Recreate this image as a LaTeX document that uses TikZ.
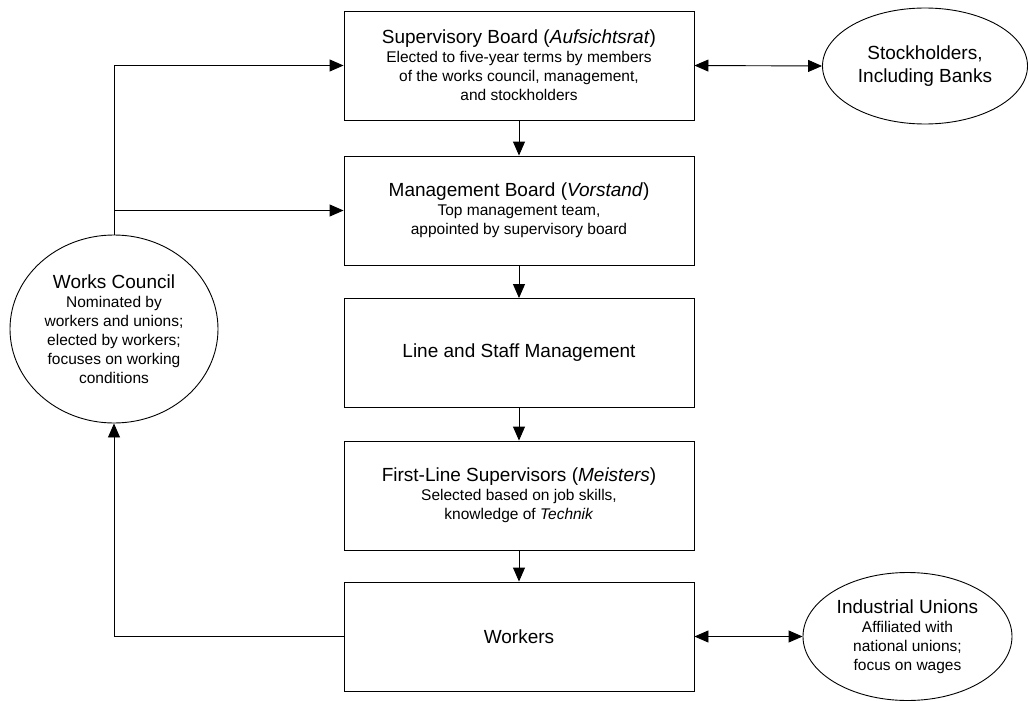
\documentclass[tikz,border=0pt]{standalone}
\usepackage{fontspec}
\setmainfont{Liberation Sans}
\usetikzlibrary{shapes.geometric,arrows.meta}
\newcommand\ttlfont{\fontsize{19}{19}\selectfont}
\newcommand\descfont{\fontsize{15.5}{19}\selectfont}
\newcommand\bigfont{\fontsize{19}{23}\selectfont}
\begin{document}
\begin{tikzpicture}[x=1pt,y=-1pt,
  box/.style={draw,line width=0.9pt,minimum width=350pt,minimum height=109pt,inner sep=0pt,align=center,font=\descfont},
  oval/.style={draw,ellipse,line width=0.9pt,inner sep=0pt,align=center,font=\descfont},
  conn/.style={line width=0.9pt,-{Triangle[length=14pt,width=12pt]}},
  dconn/.style={line width=0.9pt,{Triangle[length=14pt,width=12pt]}-{Triangle[length=14pt,width=12pt]}}]
\useasboundingbox (0,0) rectangle (1029,701);
\node[box] (sup) at (519,65.5) {{\ttlfont Supervisory Board (\textit{Aufsichtsrat})}\\Elected to five-year terms by members\\of the works council, management,\\and stockholders};
\node[box] (mgmt) at (519,210.5) {{\ttlfont Management Board (\textit{Vorstand})}\\Top management team,\\appointed by supervisory board};
\node[box] (line) at (519,353) {{\ttlfont Line and Staff Management}};
\node[box] (first) at (519,495.5) {{\ttlfont First-Line Supervisors (\textit{Meisters})}\\Selected based on job skills,\\knowledge of \textit{Technik}};
\node[box] (work) at (519,636.5) {{\ttlfont Workers}};
\node[oval,minimum width=208pt,minimum height=188pt] (wc) at (114,329) {{\ttlfont Works Council}\\Nominated by\\workers and unions;\\elected by workers;\\focuses on working\\conditions};
\node[oval,font=\bigfont,minimum width=205pt,minimum height=116pt] (stock) at (925,66) {Stockholders,\\Including Banks};
\node[oval,minimum width=209pt,minimum height=128pt] (iu) at (907.5,636.5) {{\ttlfont Industrial Unions}\\Affiliated with\\national unions;\\focus on wages};
\draw[conn] (sup) -- (mgmt);
\draw[conn] (mgmt) -- (line);
\draw[conn] (line) -- (first);
\draw[conn] (first) -- (work);
\draw[conn] (wc.north) |- (sup.west);
\draw[conn] (wc.north) |- (mgmt.west);
\draw[conn] (work.west) -| (wc.south);
\draw[dconn] (sup.east) -- (stock.west);
\draw[dconn] (work.east) -- (iu.west);
\end{tikzpicture}
\end{document}
